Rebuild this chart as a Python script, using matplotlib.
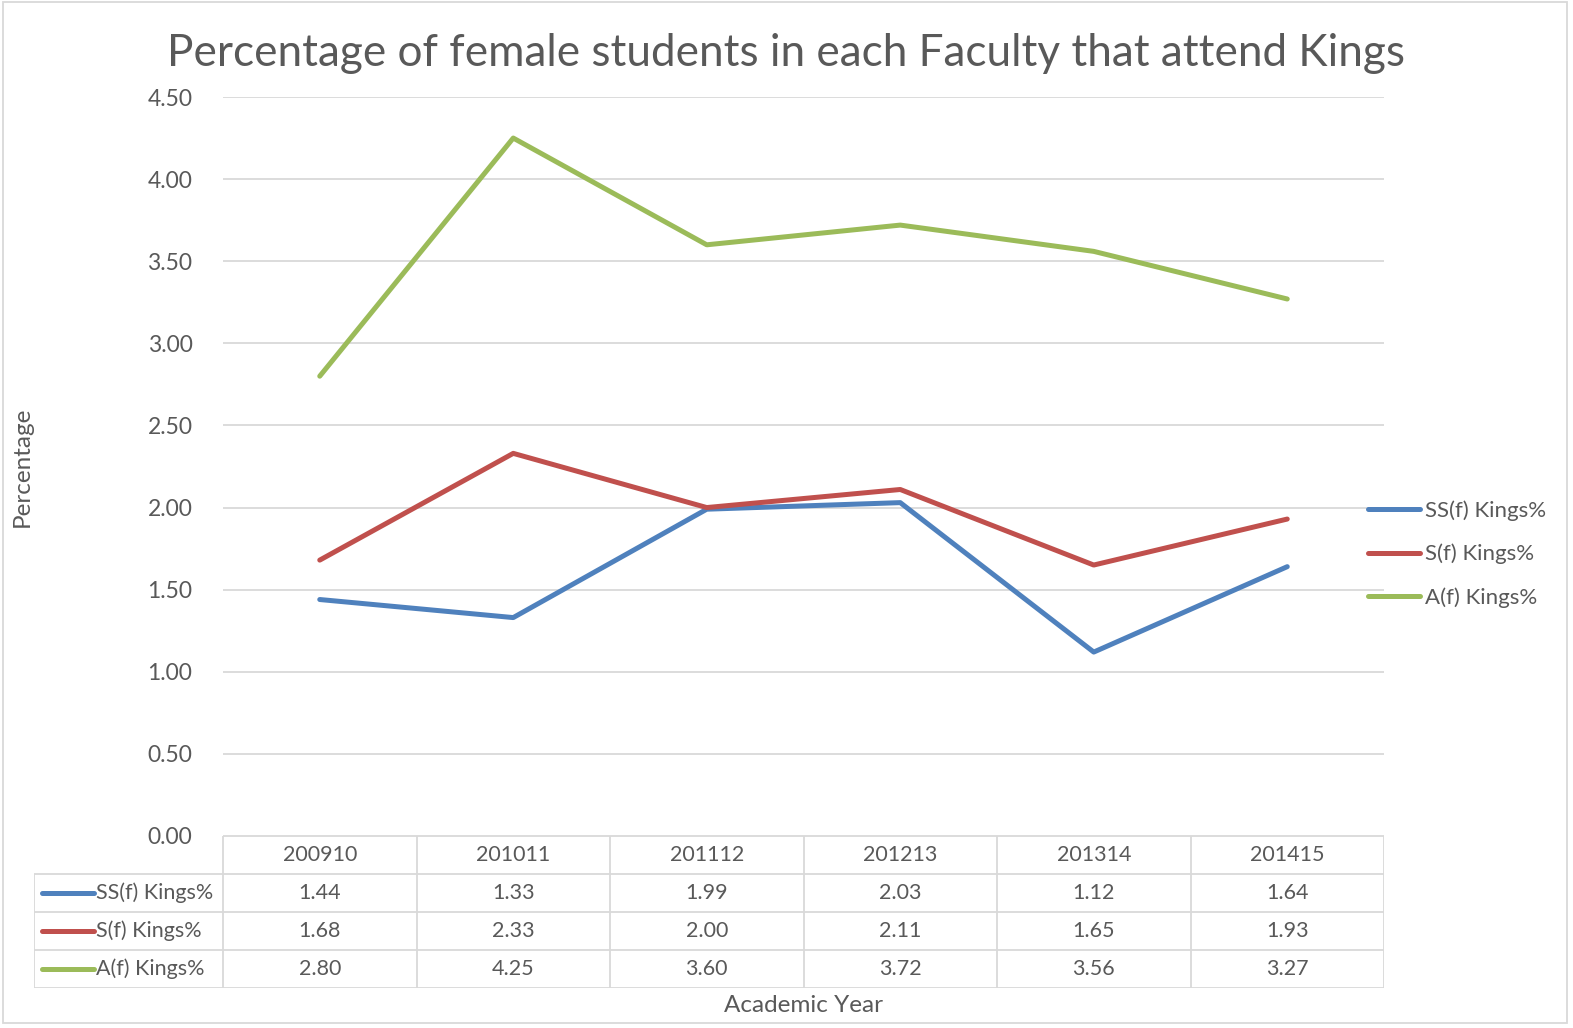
import matplotlib.pyplot as plt
import numpy as np

years = ["200910", "201011", "201112", "201213", "201314", "201415"]
series_names = ["SS(f) Kings%", "S(f) Kings%", "A(f) Kings%"]
ss_vals = [1.44, 1.33, 1.99, 2.03, 1.12, 1.64]
s_vals = [1.68, 2.33, 2.00, 2.11, 1.65, 1.93]
a_vals = [2.80, 4.25, 3.60, 3.72, 3.56, 3.27]
colors = ["#4F81BD", "#C0504D", "#9BBB59"]

plt.rcParams['font.family'] = ['Lato', 'DejaVu Sans']
txt = "#595959"
grid = "#d9d9d9"

W, H = 1573, 1028
fig = plt.figure(figsize=(W / 100, H / 100), dpi=100)

# outer chart border
fig.patches.append(plt.Rectangle((3 / W, 1 - 1023 / H), 1564 / W, 1021 / H,
                                 transform=fig.transFigure, fill=False,
                                 edgecolor=grid, lw=1.3))

# main plot area
L, R, T, B = 223, 1384, 97, 836
ax = fig.add_axes([L / W, 1 - B / H, (R - L) / W, (B - T) / H])
x = np.arange(len(years))
all_vals = [ss_vals, s_vals, a_vals]
for vals, name, c in zip(all_vals, series_names, colors):
    ax.plot(x, vals, color=c, lw=3.6, label=name, solid_capstyle="round")

ax.set_xlim(-0.5, len(years) - 0.5)
ax.set_ylim(0, 4.5)
ax.set_yticks(np.arange(0, 4.51, 0.5))
ax.set_yticklabels(["%.2f" % v for v in np.arange(0, 4.51, 0.5)])
ax.set_xticks([])
ax.grid(axis="y", color=grid, lw=1.3)
ax.set_axisbelow(True)
for s in ax.spines.values():
    s.set_visible(False)
ax.tick_params(axis="y", length=0, pad=22, labelsize=16.5, labelcolor=txt)

fig.text(786 / W, 1 - 54 / H, "Percentage of female students in each Faculty that attend Kings",
         ha="center", va="center", fontsize=31.8, color=txt)
fig.text(22 / W, 1 - 467 / H, "Percentage", rotation=90, ha="center", va="center",
         fontsize=17.5, color=txt)
fig.text(803 / W, 1 - 1005 / H, "Academic Year", ha="center", va="center",
         fontsize=17.5, color=txt)

leg = ax.legend(loc="center left", bbox_to_anchor=((1368 - L) / (R - L), (B - 554) / (B - T)),
                frameon=False, fontsize=16, labelcolor=txt, handlelength=2.35,
                handletextpad=0.2, labelspacing=1.03, borderpad=0, borderaxespad=0)

# data table under the axis
TL, TB = 34, 988
unit = (R - L) / len(years)
tax = fig.add_axes([TL / W, 1 - TB / H, (R - TL) / W, (TB - B) / H])
left_edge = -0.5 - (L - TL) / unit
tax.set_xlim(left_edge, len(years) - 0.5)
tax.set_ylim(4, 0)
tax.axis("off")
lk = dict(color=grid, lw=1.3, solid_capstyle="butt")
# header row lines (only over the category columns)
tax.plot([-0.5, len(years) - 0.5], [0, 0], **lk)
for r in range(1, 5):
    tax.plot([left_edge, len(years) - 0.5], [r, r], **lk)
tax.plot([left_edge, left_edge], [1, 4], **lk)
for i in range(len(years) + 1):
    tax.plot([i - 0.5, i - 0.5], [0, 4], **lk)
for i, yr in enumerate(years):
    tax.text(i, 0.5, yr, ha="center", va="center", fontsize=15.5, color=txt)
for r, (vals, name, c) in enumerate(zip(all_vals, series_names, colors)):
    yy = r + 1.5
    tax.plot([left_edge + 0.04, left_edge + 0.31], [yy, yy], color=c, lw=3.6,
             solid_capstyle="round")
    tax.text(left_edge + 0.32, yy, name, ha="left", va="center", fontsize=15.5, color=txt)
    for i, v in enumerate(vals):
        tax.text(i, yy, "%.2f" % v, ha="center", va="center", fontsize=15.5, color=txt)

fig.savefig("out.png", dpi=100)
